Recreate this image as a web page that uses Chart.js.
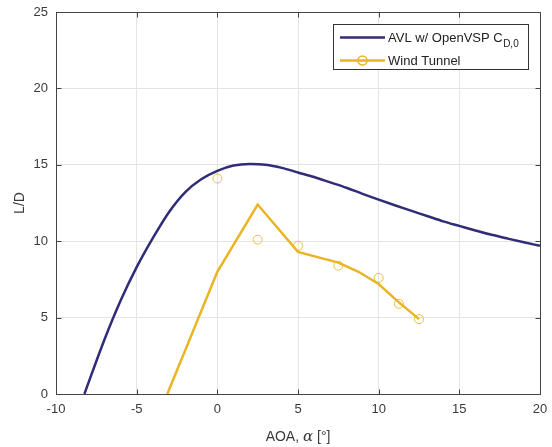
<!DOCTYPE html>
<html>
<head>
<meta charset="utf-8">
<script src="https://cdn.jsdelivr.net/npm/chart.js@4/dist/chart.umd.min.js"></script>
<style>
  html, body { margin: 0; padding: 0; background: #fff; }
  #wrap { position: relative; width: 552px; height: 447px; }
</style>
</head>
<body>
<div id="wrap"><canvas id="ld-chart" width="552" height="447"></canvas></div>
<script>
(function () {
  'use strict';

  // --- Data ---
  var avlAoa = [-8.24, -7, -6, -5, -4, -3, -2, -1, 0, 1, 2, 3, 4, 5, 6, 7, 8, 9, 10, 11, 12, 13, 14, 15, 16, 17, 18, 19, 20];
  var avlLD = [0, 3.55, 6.1, 8.3, 10.2, 11.9, 13.2, 14.05, 14.6, 14.95, 15.05, 15.0, 14.8, 14.5, 14.2, 13.85, 13.5, 13.1, 12.72, 12.35, 12.0, 11.65, 11.3, 11.0, 10.7, 10.42, 10.17, 9.93, 9.7];

  var wtLineAoa = [-3.1, 0, 2.5, 5, 7.5, 8.75, 10, 11.25, 12.5];
  var wtLineLD = [0, 8.0, 12.4, 9.3, 8.6, 8.0, 7.2, 6.0, 4.9];

  var wtPtsAoa = [0, 2.5, 5, 7.5, 10, 11.25, 12.5];
  var wtPtsLD = [14.1, 10.1, 9.7, 8.4, 7.6, 5.9, 4.9];

  var xTicks = [-10, -5, 0, 5, 10, 15, 20];
  var xTickLabels = ['-10', '-5', '0', '5', '10', '15', '20'];
  var yTicks = [0, 5, 10, 15, 20, 25];
  var yTickLabels = ['0', '5', '10', '15', '20', '25'];

  var NAVY = '#2f2c78';
  var GOLD = '#e9b525';
  var TEXT = '#3a3a3a';
  var FONT = "'Liberation Sans', Arial, sans-serif";

  function pairs(xs, ys) {
    return xs.map(function (x, i) { return { x: x, y: ys[i] }; });
  }

  function setTicks(values) {
    return function (scale) {
      scale.ticks = values.map(function (v) { return { value: v }; });
    };
  }

  function labelFor(values, labels) {
    return function (v) {
      var i = values.indexOf(v);
      return i >= 0 ? labels[i] : '';
    };
  }

  // --- Frame, inward ticks, titles, legend ---
  var framePlugin = {
    id: 'frame',
    afterDraw: function (c) {
      var ctx = c.ctx, a = c.chartArea, xs = c.scales.x, ys = c.scales.y;
      var L = Math.round(a.left) + 0.5, R = Math.round(a.right) + 0.5;
      var T = Math.round(a.top) + 0.5, B = Math.round(a.bottom) + 0.5;
      ctx.save();
      ctx.strokeStyle = '#444';
      ctx.lineWidth = 1;
      ctx.beginPath();
      xTicks.forEach(function (v) {
        var px = Math.round(xs.getPixelForValue(v)) + 0.5;
        ctx.moveTo(px, B); ctx.lineTo(px, B - 5);
        ctx.moveTo(px, T); ctx.lineTo(px, T + 5);
      });
      yTicks.forEach(function (v) {
        var py = Math.round(ys.getPixelForValue(v)) + 0.5;
        ctx.moveTo(L, py); ctx.lineTo(L + 5, py);
        ctx.moveTo(R, py); ctx.lineTo(R - 5, py);
      });
      ctx.stroke();
      ctx.strokeRect(L, T, R - L, B - T);

      // axis titles
      ctx.fillStyle = TEXT;
      ctx.textBaseline = 'middle';
      var cx = (a.left + a.right) / 2;
      var p1 = 'AOA, ', p2 = '\u03b1', p3 = ' [\u00b0]';
      ctx.font = '14px ' + FONT;
      var w1 = ctx.measureText(p1).width, w3 = ctx.measureText(p3).width;
      ctx.font = 'italic 15px "DejaVu Serif", serif';
      var w2 = ctx.measureText(p2).width;
      var x0 = cx - (w1 + w2 + w3) / 2;
      var ty = 437;
      ctx.textAlign = 'left';
      ctx.font = '14px ' + FONT;
      ctx.fillText(p1, x0, ty);
      ctx.font = 'italic 15px "DejaVu Serif", serif';
      ctx.fillText(p2, x0 + w1, ty);
      ctx.font = '14px ' + FONT;
      ctx.fillText(p3, x0 + w1 + w2, ty);

      ctx.save();
      ctx.translate(20, (a.top + a.bottom) / 2);
      ctx.rotate(-Math.PI / 2);
      ctx.textAlign = 'center';
      ctx.fillText('L/D', 0, 0);
      ctx.restore();

      // legend
      var bx = 333.5, by = 24.5, bw = 195, bh = 45;
      ctx.fillStyle = '#fff';
      ctx.fillRect(bx, by, bw, bh);
      ctx.strokeStyle = '#333';
      ctx.strokeRect(bx, by, bw, bh);

      ctx.lineWidth = 2.5;
      ctx.strokeStyle = NAVY;
      ctx.beginPath(); ctx.moveTo(340, 37.5); ctx.lineTo(385, 37.5); ctx.stroke();
      ctx.strokeStyle = GOLD;
      ctx.beginPath(); ctx.moveTo(340, 60.5); ctx.lineTo(385, 60.5); ctx.stroke();
      ctx.lineWidth = 1.5;
      ctx.beginPath(); ctx.arc(362.5, 60.5, 4.5, 0, Math.PI * 2); ctx.stroke();

      ctx.fillStyle = '#222';
      ctx.textAlign = 'left';
      ctx.textBaseline = 'alphabetic';
      ctx.font = '13px ' + FONT;
      var s1 = 'AVL w/ OpenVSP C';
      ctx.fillText(s1, 388, 42);
      var sw = ctx.measureText(s1).width;
      ctx.font = '10px ' + FONT;
      ctx.fillText('D,0', 388 + sw + 0.5, 47);
      ctx.font = '13px ' + FONT;
      ctx.fillText('Wind Tunnel', 388, 65);
      ctx.restore();
    }
  };

  // --- Chart ---
  new Chart(document.getElementById('ld-chart'), {
    type: 'line',
    data: {
      datasets: [
        {
          label: 'AVL w/ OpenVSP C_D,0',
          data: pairs(avlAoa, avlLD),
          borderColor: NAVY,
          borderWidth: 2.5,
          pointRadius: 0,
          cubicInterpolationMode: 'monotone',
          fill: false
        },
        {
          label: 'Wind Tunnel',
          data: pairs(wtLineAoa, wtLineLD),
          borderColor: GOLD,
          borderWidth: 2.5,
          pointRadius: 0,
          tension: 0,
          fill: false
        },
        {
          label: 'Wind Tunnel points',
          data: pairs(wtPtsAoa, wtPtsLD),
          showLine: false,
          borderColor: 'rgba(233,181,37,0.85)',
          backgroundColor: 'rgba(0,0,0,0)',
          pointRadius: 4.5,
          pointBorderWidth: 1,
          pointStyle: 'circle'
        }
      ]
    },
    options: {
      responsive: false,
      animation: false,
      events: [],
      layout: { padding: { left: 0, right: 12, top: 12, bottom: 0 } },
      plugins: { legend: { display: false }, tooltip: { enabled: false } },
      scales: {
        x: {
          type: 'linear',
          min: -10,
          max: 20,
          afterBuildTicks: setTicks(xTicks),
          afterFit: function (s) { s.height = 53; s.paddingLeft = 0; s.paddingRight = 0; },
          ticks: {
            callback: labelFor(xTicks, xTickLabels),
            color: TEXT,
            font: { family: FONT, size: 13 },
            padding: 8,
            maxRotation: 0,
            autoSkip: false
          },
          grid: { color: '#e4e4e4', drawTicks: false },
          border: { display: false }
        },
        y: {
          type: 'linear',
          min: 0,
          max: 25,
          afterBuildTicks: setTicks(yTicks),
          afterFit: function (s) { s.width = 56; s.paddingTop = 0; s.paddingBottom = 0; },
          ticks: {
            callback: labelFor(yTicks, yTickLabels),
            color: TEXT,
            font: { family: FONT, size: 13 },
            padding: 8,
            autoSkip: false
          },
          grid: { color: '#e4e4e4', drawTicks: false },
          border: { display: false }
        }
      }
    },
    plugins: [framePlugin]
  });
})();
</script>
</body>
</html>
